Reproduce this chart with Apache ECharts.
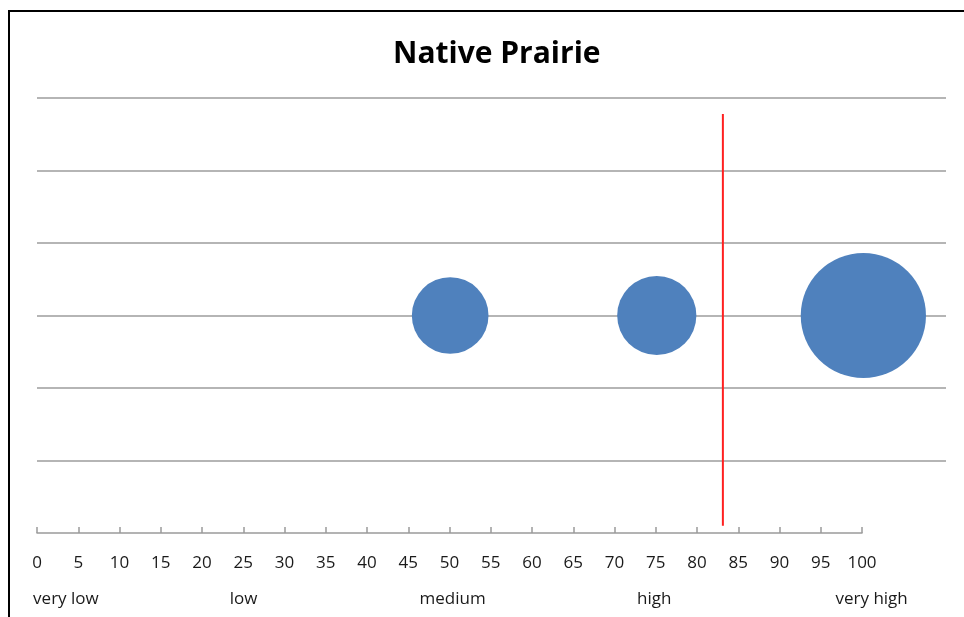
<!DOCTYPE html>
<html>
<head>
<meta charset="utf-8">
<script src="https://cdn.jsdelivr.net/npm/echarts@6/dist/echarts.min.js"></script>
<style>
html,body{margin:0;padding:0;background:#fff;}
#chart{width:964px;height:617px;}
</style>
</head>
<body>
<div id="chart"></div>
<script>
// ---- data ----
var titleText = 'Native Prairie';
var bubbleX = [50, 75, 100];
var bubbleY = [3, 3, 3];
var bubbleSize = [15, 16, 40];
var thresholdX = 83;
var thresholdY = [0.1, 5.78];
var xTickLabels = [0, 5, 10, 15, 20, 25, 30, 35, 40, 45, 50, 55, 60, 65, 70, 75, 80, 85, 90, 95, 100];
var categoryNames = ['very low', 'low', 'medium', 'high', 'very high'];
var categoryX = [3.5, 25, 50.3, 74.7, 101];

// ---- chart ----
var chart = echarts.init(document.getElementById('chart'), null, {renderer: 'canvas'});
var FONT = '"Open Sans", sans-serif';
var bubbles = bubbleX.map(function (x, i) { return [x, bubbleY[i], bubbleSize[i]]; });
var lineData = thresholdY.map(function (y) { return [thresholdX, y]; });

var option = {
  animation: false,
  backgroundColor: '#ffffff',
  title: {
    text: titleText,
    left: 393,
    top: 39,
    padding: 0,
    textStyle: {fontFamily: FONT, fontWeight: 'bold', fontSize: 30, color: '#000'}
  },
  grid: [
    {left: 37, right: 18, top: 98, bottom: 84},
    {left: 37, width: 825, top: 98, bottom: 84}
  ],
  xAxis: [
    {
      gridIndex: 0, type: 'value', min: 0, max: 110, position: 'bottom',
      axisLine: {show: false, onZero: false}, axisTick: {show: false}, splitLine: {show: false},
      axisLabel: {show: false}
    },
    {
      gridIndex: 1, type: 'value', min: 0, max: 100, interval: 5, position: 'bottom',
      axisLine: {show: true, onZero: false, lineStyle: {color: '#9a9a9a', width: 1.5}},
      axisTick: {show: true, inside: true, length: 6, lineStyle: {color: '#9a9a9a', width: 1.5}},
      splitLine: {show: false},
      axisLabel: {
        margin: 22, fontFamily: FONT, fontSize: 17, color: '#1a1a1a',
        customValues: xTickLabels,
        formatter: function (v) { return String(v); }
      }
    },
    {
      gridIndex: 0, type: 'value', min: 0, max: 110, position: 'bottom', offset: 0,
      axisLine: {show: false, onZero: false}, axisTick: {show: false}, splitLine: {show: false},
      axisLabel: {
        margin: 58, fontFamily: FONT, fontSize: 17, color: '#1a1a1a',
        customValues: categoryX,
        formatter: function (v) {
          var i = categoryX.indexOf(v);
          return i >= 0 ? categoryNames[i] : '';
        }
      }
    }
  ],
  yAxis: [
    {
      gridIndex: 0, type: 'value', min: 0, max: 6, interval: 1,
      axisLine: {show: false}, axisTick: {show: false}, axisLabel: {show: false},
      splitLine: {show: true, lineStyle: {color: ['rgba(0,0,0,0)', '#9c9c9c', '#9c9c9c', '#9c9c9c', '#9c9c9c', '#9c9c9c', '#9c9c9c'], width: 1.5}}
    },
    {
      gridIndex: 1, type: 'value', min: 0, max: 6, show: false,
      splitLine: {show: false}
    }
  ],
  series: [
    {
      type: 'scatter', xAxisIndex: 0, yAxisIndex: 0,
      data: bubbles,
      symbolSize: function (d) { return 19.8 * Math.sqrt(d[2]); },
      itemStyle: {color: '#4f81bd', opacity: 1},
      silent: true
    },
    {
      type: 'line', xAxisIndex: 0, yAxisIndex: 0,
      data: lineData,
      symbol: 'none',
      lineStyle: {color: '#ff2020', width: 2},
      silent: true
    }
  ],
  graphic: [
    {
      type: 'rect', silent: true,
      shape: {x: 9, y: 11, width: 1100, height: 800},
      style: {fill: 'none', stroke: '#000', lineWidth: 2},
      z: 100
    }
  ]
};
chart.setOption(option);
</script>
</body>
</html>
